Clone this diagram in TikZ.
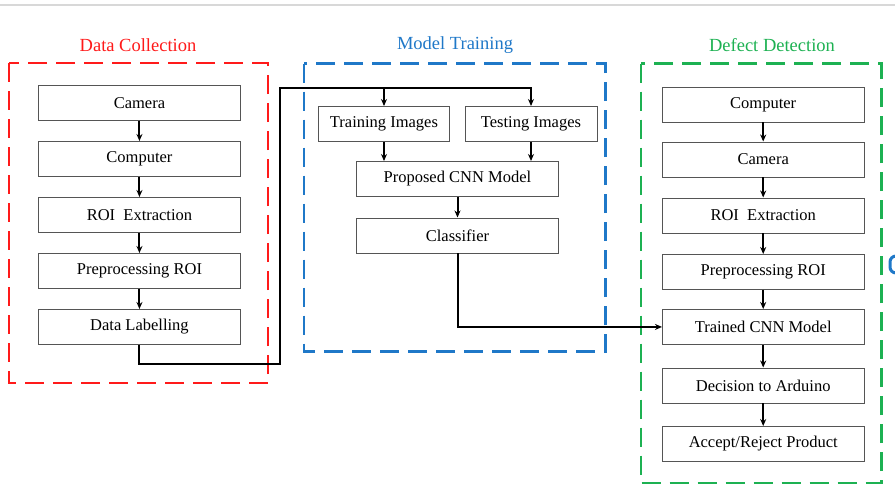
\documentclass[tikz,border=0pt]{standalone}
\usepackage{fontspec}
\setmainfont{Liberation Serif}
\usetikzlibrary{arrows.meta}
\definecolor{dcred}{HTML}{FF1A1A}
\definecolor{mtblue}{HTML}{1F78C8}
\definecolor{ddgreen}{HTML}{1DB152}
\definecolor{boxline}{HTML}{555555}
\begin{document}
\begin{tikzpicture}[x=1pt,y=-1pt,
  stepbox/.style={draw=boxline,line width=0.9pt,minimum height=35pt,inner sep=0pt,font=\fontsize{16.5}{19}\selectfont,anchor=north west},
  group/.style={line width=2.6pt,dash pattern=on 19pt off 9pt},
  title/.style={font=\fontsize{18.5}{22}\selectfont},
  conn/.style={line width=2pt,black},
  arr/.style={conn,-{Stealth[length=7pt,width=6pt]}}]
\useasboundingbox (0,0) rectangle (895,498);
\draw[draw={rgb,255:red,216;green,216;blue,216},line width=1.2pt] (0,5) -- (895,5);
% groups
\draw[group,dcred] (9,63) rectangle (268,383);
\node[title,text=dcred] (t1) at (138,45) {Data Collection};
\draw[group,mtblue] (304,63.5) rectangle (605.5,351.5);
\node[title,text=mtblue] (t2) at (455,45) {Model Training};
\draw[group,ddgreen] (641,63.5) rectangle (881.5,483);
\node[title,text=ddgreen] (t3) at (772,45) {Defect Detection};
% left column
\node[stepbox,minimum width=202pt] (a1) at (38,85) {Camera};
\node[stepbox,minimum width=202pt] (a2) at (38,141) {Computer};
\node[stepbox,minimum width=202pt] (a3) at (38,197) {ROI\ \ Extraction};
\node[stepbox,minimum width=202pt] (a4) at (38,253) {Preprocessing ROI};
\node[stepbox,minimum width=202pt] (a5) at (38,309) {Data Labelling};
\foreach \i/\j in {a1/a2,a2/a3,a3/a4,a4/a5} \draw[arr] (\i) -- (\j);
% middle
\node[stepbox,minimum width=131pt] (b1) at (318,106) {Training Images};
\node[stepbox,minimum width=132pt] (b2) at (464.5,106) {Testing Images};
\node[stepbox,minimum width=202pt] (b3) at (356,161) {Proposed CNN Model};
\node[stepbox,minimum width=202pt] (b4) at (356,217.5) {Classifier};
\draw[arr] (b1.south -| 384,0) -- (b3.north -| 384,0);
\draw[arr] (b2.south -| 531,0) -- (b3.north -| 531,0);
\draw[arr] (b3.south -| 457.5,0) -- (b4.north -| 457.5,0);
% right column
\node[stepbox,minimum width=201.5pt] (c1) at (662,86.5) {Computer};
\node[stepbox,minimum width=201.5pt] (c2) at (662,141.5) {Camera};
\node[stepbox,minimum width=201.5pt] (c3) at (662,197.5) {ROI\ \ Extraction};
\node[stepbox,minimum width=201.5pt] (c4) at (662,254) {Preprocessing ROI};
\node[stepbox,minimum width=201.5pt] (c5) at (662,309) {Trained CNN Model};
\node[stepbox,minimum width=201.5pt] (c6) at (662,367.5) {Decision to Arduino};
\node[stepbox,minimum width=201.5pt] (c7) at (662,426) {Accept/Reject Product};
\foreach \i/\j in {c1/c2,c2/c3,c3/c4,c4/c5,c5/c6,c6/c7} \draw[arr] (\i) -- (\j);
% cross connectors
\coordinate (k1) at (280,364);
\coordinate (k2) at (280,88);
\draw[conn] (a5.south) |- (k1) -- (k2) -- (531,88);
\draw[arr] (384,88) -- (b1.north -| 384,0);
\draw[arr] (531,87) -- (b2.north -| 531,0);
\draw[arr] (b4.south -| 457.5,0) |- (c5.west);
% cropped edge mark
\draw[mtblue,line width=3pt] (896,256) arc[start angle=90,end angle=180,radius=6pt] -- ++(0,5) arc[start angle=180,end angle=270,radius=6pt];
\end{tikzpicture}
\end{document}
